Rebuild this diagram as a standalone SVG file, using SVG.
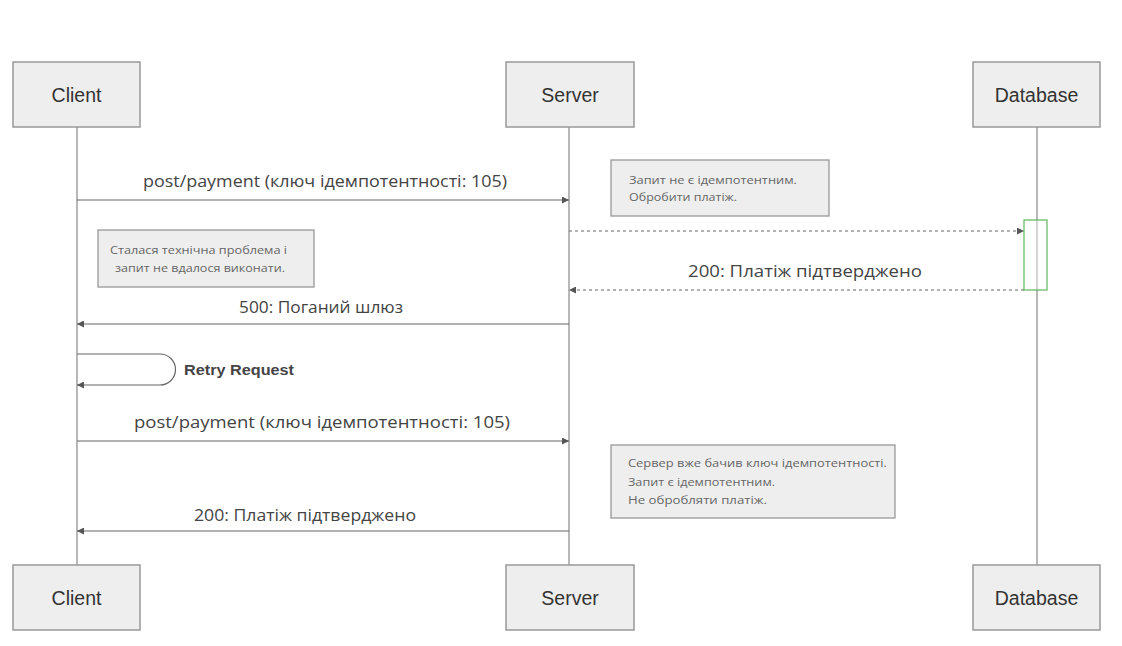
<svg xmlns="http://www.w3.org/2000/svg" width="1122" height="646" viewBox="0 0 1122 646">
  <defs>
    <marker id="arrow" viewBox="0 0 10 10" refX="10" refY="5" markerWidth="9" markerHeight="7" markerUnits="userSpaceOnUse" orient="auto">
      <path d="M0,0 L10,5 L0,10 z" fill="#555"/>
    </marker>
    <style>
      .actor rect { fill: #eeeeee; stroke: #999; stroke-width: 1.5; }
      .actor text { font-family: "Liberation Sans", Arial, sans-serif; font-size: 19.5px; fill: #333; text-anchor: middle; }
      .life { stroke: #888; stroke-width: 1.2; }
      .msg { stroke: #666; stroke-width: 1.2; fill: none; marker-end: url(#arrow); }
      .dash { stroke-dasharray: 3 3; }
      .label { font-family: "Open Sans", "Noto Sans", sans-serif; font-size: 16px; fill: #444; text-anchor: middle; }
      .note rect { fill: #eeeeee; stroke: #999; stroke-width: 1.3; }
      .note text { font-family: "Open Sans", "Noto Sans", sans-serif; font-size: 10.5px; fill: #666; }
    </style>
  </defs>

  <!-- lifelines -->
  <g id="lifelines">
    <line class="life" x1="77" y1="127" x2="77" y2="565"/>
    <line class="life" x1="569" y1="127" x2="569" y2="565"/>
    <line class="life" x1="1037" y1="127" x2="1037" y2="565"/>
  </g>

  <!-- participants, top -->
  <g id="client-top" class="actor"><rect x="13" y="62" width="127" height="65"/><text x="76.5" y="102">Client</text></g>
  <g id="server-top" class="actor"><rect x="506" y="62" width="128" height="65"/><text x="570" y="102">Server</text></g>
  <g id="database-top" class="actor"><rect x="973" y="62" width="127" height="65"/><text x="1036.5" y="102">Database</text></g>

  <!-- participants, bottom -->
  <g id="client-bottom" class="actor"><rect x="13" y="565" width="127" height="65"/><text x="76.5" y="605">Client</text></g>
  <g id="server-bottom" class="actor"><rect x="506" y="565" width="128" height="65"/><text x="570" y="605">Server</text></g>
  <g id="database-bottom" class="actor"><rect x="973" y="565" width="127" height="65"/><text x="1036.5" y="605">Database</text></g>

  <!-- database activation -->
  <g id="db-activation">
    <rect x="1024" y="220" width="23" height="70" fill="#ffffff" fill-opacity="0.4" stroke="#5cb85c" stroke-width="1.2"/>
  </g>

  <!-- messages -->
  <g id="connectors">
    <line class="msg" x1="77" y1="200" x2="569" y2="200"/>
    <line class="msg dash" x1="569" y1="231" x2="1024" y2="231"/>
    <line class="msg dash" x1="1024" y1="290" x2="569" y2="290"/>
    <line class="msg" x1="569" y1="324" x2="77" y2="324"/>
    <path class="msg" d="M77,354 H160 A15.5,15.5 0 0 1 160,385 H77"/>
    <line class="msg" x1="77" y1="441" x2="569" y2="441"/>
    <line class="msg" x1="569" y1="531" x2="77" y2="531"/>
  </g>

  <!-- message labels -->
  <g id="labels">
    <text class="label" x="325" y="187" textLength="364" lengthAdjust="spacingAndGlyphs">post/payment (ключ ідемпотентності: 105)</text>
    <text class="label" x="805" y="277" textLength="234" lengthAdjust="spacingAndGlyphs">200: Платіж підтверджено</text>
    <text class="label" x="321" y="313" textLength="164" lengthAdjust="spacingAndGlyphs">500: Поганий шлюз</text>
    <text x="184" y="375" font-family="Liberation Sans, Arial, sans-serif" font-size="14.5" font-weight="bold" fill="#444" textLength="110" lengthAdjust="spacingAndGlyphs">Retry Request</text>
    <text class="label" x="322" y="428" textLength="376" lengthAdjust="spacingAndGlyphs">post/payment (ключ ідемпотентності: 105)</text>
    <text class="label" x="305" y="521" textLength="222" lengthAdjust="spacingAndGlyphs">200: Платіж підтверджено</text>
  </g>

  <!-- notes -->
  <g id="note-not-idempotent" class="note">
    <rect x="611" y="160" width="218" height="56"/>
    <text x="629" y="184" textLength="168" lengthAdjust="spacingAndGlyphs">Запит не є ідемпотентним.</text>
    <text x="629" y="201" textLength="108" lengthAdjust="spacingAndGlyphs">Обробити платіж.</text>
  </g>
  <g id="note-failure" class="note">
    <rect x="98" y="230" width="216" height="57"/>
    <text x="110" y="254" textLength="177" lengthAdjust="spacingAndGlyphs">Сталася технічна проблема і</text>
    <text x="115" y="272" textLength="170" lengthAdjust="spacingAndGlyphs">запит не вдалося виконати.</text>
  </g>
  <g id="note-idempotent" class="note">
    <rect x="611" y="445" width="284" height="73"/>
    <text x="628" y="467" textLength="259" lengthAdjust="spacingAndGlyphs">Сервер вже бачив ключ ідемпотентності.</text>
    <text x="628" y="486" textLength="147" lengthAdjust="spacingAndGlyphs">Запит є ідемпотентним.</text>
    <text x="628" y="504" textLength="139" lengthAdjust="spacingAndGlyphs">Не обробляти платіж.</text>
  </g>
</svg>
